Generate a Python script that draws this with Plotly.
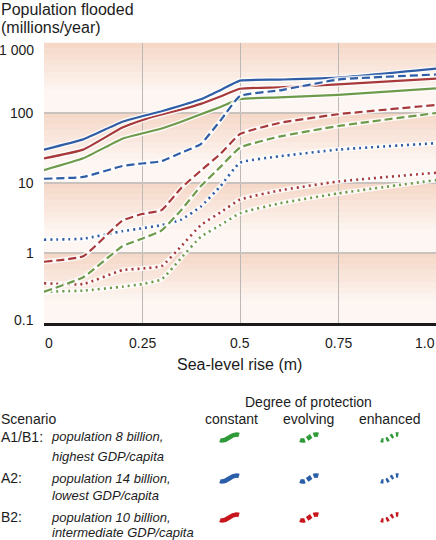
import plotly.graph_objects as go

# Sea-level rise (m)
sea_level = [0, 0.1, 0.2, 0.25, 0.3, 0.35, 0.4, 0.45, 0.5, 0.6, 0.75, 1.0]

# Population flooded (millions/year), per scenario and degree of protection
a1b1_constant = [15.3, 22.5, 43, 51, 60, 75, 96, 122, 158, 167, 182, 225]
a1b1_evolving = [0.28, 0.45, 1.25, 1.6, 2.1, 4.1, 9, 17, 32, 46, 65, 100]
a1b1_enhanced = [0.28, 0.29, 0.33, 0.36, 0.42, 0.85, 1.7, 2.5, 3.7, 5.1, 7.1, 11]

a2_constant = [30, 42, 75, 90, 106, 128, 157, 212, 290, 300, 320, 430]
a2_evolving = [11.5, 12.2, 17.5, 19, 20.5, 27, 36, 78, 175, 210, 300, 355]
a2_enhanced = [1.55, 1.6, 2.05, 2.25, 2.5, 3.0, 4.6, 9, 19.5, 24, 30, 37]

b2_constant = [22.5, 30, 62, 79, 95, 112, 135, 172, 222, 232, 257, 310]
b2_evolving = [0.75, 0.9, 2.9, 3.6, 4.1, 8.5, 15, 26, 50, 72, 96, 130]
b2_enhanced = [0.37, 0.36, 0.57, 0.6, 0.65, 1.25, 2.5, 3.8, 5.8, 7.8, 10.5, 14]

# Tick labels
x_tick_vals = [0, 0.25, 0.5, 0.75, 1.0]
x_tick_text = ["0", "0.25", "0.5", "0.75", "1.0"]
y_tick_vals = [0.1, 1, 10, 100, 1000]
y_tick_text = ["0.1", "1", "10", "100", "1 000"]

# Legend text
scenarios = ["A1/B1:", "A2:", "B2:"]
scenario_lines = [
    ["population 8 billion,", "highest GDP/capita"],
    ["population 14 billion,", "lowest GDP/capita"],
    ["population 10 billion,", "intermediate GDP/capita"],
]
protection = ["constant", "evolving", "enhanced"]

# Plot area in pixels (figure is 436 x 540)
FIG_W, FIG_H = 436, 540
L, T, W, H = 44, 43, 392, 280

FONT = "Liberation Sans, Arial, sans-serif"
TEXT = "#1c1c1c"

LINE_COLORS = {"A1/B1:": "#6e9b4b", "A2:": "#2f5ea6", "B2:": "#a8393b"}
KEY_COLORS = {"A1/B1:": "#2f9a38", "A2:": "#2b5ea9", "B2:": "#c8161e"}
LINE_DASH = {"constant": "solid", "evolving": "8px,4px", "enhanced": "2px,4px"}
KEY_DASH = {"constant": "solid", "evolving": "5px,2.5px", "enhanced": "2.5px,3px"}


def px(xp):
    return (xp - L) / W


def py(yp):
    return (T + H - yp) / H


def add_text(fig, text, x, y, size=14, anchor="left", italic=False):
    fig.add_annotation(
        text=text, x=px(x), y=py(y), xref="paper", yref="paper",
        xanchor=anchor, yanchor="middle", showarrow=False, borderpad=0,
        font=dict(family=FONT, size=size, color=TEXT,
                  style="italic" if italic else "normal"),
    )


def add_background(fig):
    """Peach gradient inside every decade, darkest just under the top."""
    top = (245, 216, 200)
    bottom = (253, 246, 242)
    steps = 12
    for d in range(4):
        for k in range(steps):
            t = min(1.0, k / (steps * 0.65))
            c = [round(top[i] + (bottom[i] - top[i]) * t) for i in range(3)]
            y1 = (d + 1) / 4 - k / steps / 4
            y0 = (d + 1) / 4 - (k + 1) / steps / 4
            fig.add_shape(
                type="rect", xref="paper", yref="paper",
                x0=0, x1=1, y0=y0, y1=y1 + 0.001,
                fillcolor="rgb(%d,%d,%d)" % tuple(c),
                line_width=0, layer="below",
            )


def create_figure():
    fig = go.Figure()
    add_background(fig)

    series = {
        ("A1/B1:", "constant"): a1b1_constant,
        ("A1/B1:", "evolving"): a1b1_evolving,
        ("A1/B1:", "enhanced"): a1b1_enhanced,
        ("A2:", "constant"): a2_constant,
        ("A2:", "evolving"): a2_evolving,
        ("A2:", "enhanced"): a2_enhanced,
        ("B2:", "constant"): b2_constant,
        ("B2:", "evolving"): b2_evolving,
        ("B2:", "enhanced"): b2_enhanced,
    }

    # solid lines first, then dotted, dashed on top
    for level in ["constant", "enhanced", "evolving"]:
        for sc in ["A1/B1:", "B2:", "A2:"]:
            values = series[(sc, level)]
            fig.add_trace(go.Scatter(
                x=sea_level, y=values, mode="lines",
                line=dict(color="rgba(255,255,255,0.8)", width=5,
                          shape="spline", smoothing=0.4),
                hoverinfo="skip", showlegend=False,
            ))
            fig.add_trace(go.Scatter(
                x=sea_level, y=values, mode="lines",
                line=dict(color=LINE_COLORS[sc], width=2.2 if level != "enhanced" else 2.6,
                          dash=LINE_DASH[level], shape="spline", smoothing=0.4),
                name="%s %s" % (sc, level), showlegend=False,
            ))

    fig.update_xaxes(
        range=[0, 1.0], tickvals=[0.25, 0.5, 0.75], showticklabels=False,
        showgrid=True, gridcolor="#bcb8b6", gridwidth=1, zeroline=False,
        showline=True, linecolor="#1a1a1a", linewidth=3, ticks="",
    )
    fig.update_yaxes(
        type="log", range=[-1, 3], tickvals=[1, 10, 100], showticklabels=False,
        showgrid=True, gridcolor="#cac2bd", gridwidth=2, zeroline=False,
        showline=False, ticks="",
    )

    # tick labels
    for i, (v, t) in enumerate(zip(x_tick_vals, x_tick_text)):
        anchor = "center"
        if i == 0:
            anchor = "left"
        elif i == len(x_tick_vals) - 1:
            anchor = "right"
        fig.add_annotation(
            text=t, x=v, y=py(343), xref="x", yref="paper",
            xanchor=anchor, yanchor="middle", showarrow=False, borderpad=0,
            font=dict(family=FONT, size=14, color=TEXT),
        )
    for i, (v, t) in enumerate(zip(y_tick_vals, y_tick_text)):
        shift = 0
        if i == 0:
            shift = 3
        elif i == len(y_tick_vals) - 1:
            shift = -7
        fig.add_annotation(
            text=t, x=px(35), y=(y_tick_vals.index(v) / 4), xref="paper", yref="paper",
            xanchor="right", yanchor="middle", yshift=shift, showarrow=False,
            borderpad=0, font=dict(family=FONT, size=14, color=TEXT),
        )

    # titles
    add_text(fig, "Population flooded", 0, 9, size=16)
    add_text(fig, "(millions/year)", 0, 28, size=16)
    add_text(fig, "Sea-level rise (m)", 239, 364, size=16, anchor="center")

    # legend block
    add_text(fig, "Degree of protection", 308, 402, anchor="center")
    add_text(fig, "Scenario", 0, 419)
    col_x = [231, 308, 390]
    key_x = [220, 300, 381]
    for name, cx in zip(protection, col_x):
        add_text(fig, name, cx, 419, anchor="center")

    row_y = [437, 478, 517]
    row_y2 = [456, 495, 532]
    for sc, lines, ry, ry2 in zip(scenarios, scenario_lines, row_y, row_y2):
        add_text(fig, sc, 0, ry)
        add_text(fig, lines[0], 50, ry, size=13, italic=True)
        add_text(fig, lines[1], 51, ry2, size=13, italic=True)
        for level, kx in zip(protection, key_x):
            path = "M %f,%f C %f,%f %f,%f %f,%f" % (
                px(kx), py(ry + 3),
                px(kx + 8), py(ry + 6),
                px(kx + 10), py(ry - 5),
                px(kx + 19), py(ry - 2),
            )
            fig.add_shape(
                type="path", path=path, xref="paper", yref="paper",
                line=dict(color=KEY_COLORS[sc], width=4.5, dash=KEY_DASH[level]),
            )

    fig.update_layout(
        width=FIG_W, height=FIG_H,
        margin=dict(l=L, r=FIG_W - L - W, t=T, b=FIG_H - T - H),
        paper_bgcolor="white", plot_bgcolor="#fdf5f0",
        showlegend=False,
    )
    return fig


def main():
    fig = create_figure()
    # drop the browser's default 8px page margin so the figure sits at 0,0
    fig.write_html(
        "out.html",
        config={"displayModeBar": False},
        post_script="document.body.style.margin='0';",
    )


if __name__ == "__main__":
    main()
